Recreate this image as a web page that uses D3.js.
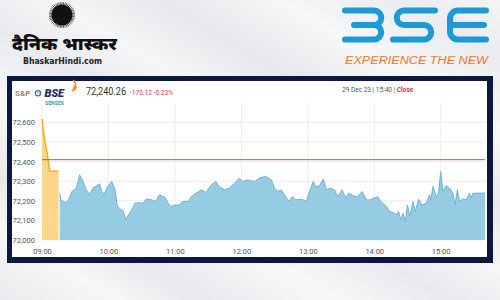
<!DOCTYPE html>
<html>
<head>
<meta charset="utf-8">
<script src="https://cdn.jsdelivr.net/npm/d3@7"></script>
<style>
  body { margin: 0; padding: 0; }
  svg { display: block; }
</style>
</head>
<body>
<div id="chart"></div>
<script>
"use strict";
// pre-open session (orange)
const preOpenTimes = ["09:00", "09:02", "09:05", "09:06", "09:07", "09:15"];
const preOpenValues = [72619, 72525, 72431, 72388, 72352, 72352];

// normal session (blue)
const sessionTimes = [
  "09:16", "09:17", "09:21", "09:24", "09:27", "09:31", "09:34", "09:37", "09:40", "09:43",
  "09:46", "09:52", "09:54", "09:56", "09:59", "10:03", "10:06", "10:08", "10:11", "10:13",
  "10:16", "10:18", "10:21", "10:24", "10:28", "10:31", "10:34", "10:39", "10:43", "10:46",
  "10:51", "10:54", "10:56", "11:00", "11:04", "11:07", "11:12", "11:15", "11:19", "11:24",
  "11:28", "11:33", "11:37", "11:40", "11:45", "11:49", "11:54", "11:58", "12:01", "12:06",
  "12:12", "12:16", "12:22", "12:27", "12:30", "12:33", "12:36", "12:39", "12:43", "12:46",
  "12:49", "12:54", "12:59", "13:01", "13:05", "13:07", "13:10", "13:14", "13:17", "13:20",
  "13:24", "13:27", "13:31", "13:34", "13:37", "13:41", "13:45", "13:49", "13:53", "13:56",
  "14:00", "14:03", "14:06", "14:11", "14:14", "14:17", "14:20", "14:22", "14:24", "14:26",
  "14:28", "14:30", "14:32", "14:35", "14:37", "14:40", "14:43", "14:47", "14:50", "14:51",
  "14:53", "14:56", "14:58", "15:00", "15:02", "15:05", "15:08", "15:11", "15:13", "15:15",
  "15:17", "15:20", "15:23", "15:26", "15:27", "15:29", "15:40"
];
const sessionValues = [
  72239, 72205, 72191, 72205, 72248, 72265, 72333, 72299, 72256, 72231,
  72265, 72287, 72248, 72231, 72273, 72299, 72256, 72171, 72157, 72150,
  72103, 72128, 72154, 72188, 72191, 72188, 72209, 72205, 72197, 72231,
  72219, 72188, 72171, 72179, 72179, 72197, 72197, 72222, 72239, 72256,
  72243, 72282, 72299, 72273, 72256, 72265, 72290, 72316, 72299, 72307,
  72299, 72316, 72325, 72308, 72265, 72248, 72256, 72231, 72197, 72222,
  72205, 72209, 72197, 72239, 72299, 72273, 72273, 72311, 72256, 72265,
  72256, 72222, 72256, 72214, 72239, 72226, 72222, 72248, 72205, 72205,
  72214, 72222, 72197, 72171, 72145, 72140, 72128, 72145, 72103, 72137,
  72094, 72179, 72120, 72197, 72145, 72209, 72179, 72188, 72231, 72205,
  72273, 72222, 72239, 72350, 72248, 72277, 72265, 72239, 72179, 72256,
  72197, 72209, 72205, 72239, 72214, 72239, 72240
];

const prevClose = 72410.38;
const yTicks = [72000, 72100, 72200, 72300, 72400, 72500, 72600];
const xTickLabels = ["09:00", "10:00", "11:00", "12:00", "13:00", "14:00", "15:00"];
const lastValue = "72,240.26";
const change = "-170.12 -0.23%";

const width = 500, height = 300;
const plot = {left: 42, right: 485, top: 103, bottom: 240};
const font = "Roboto, 'Liberation Sans', sans-serif";

const parseTime = d3.timeParse("%H:%M");

const svg = d3.select("#chart").append("svg")
    .attr("width", width)
    .attr("height", height)
    .attr("viewBox", [0, 0, width, height]);

// streaky background
const defs = svg.append("defs");
const bg = defs.append("linearGradient")
    .attr("id", "bg")
    .attr("x1", "0%").attr("y1", "100%")
    .attr("x2", "100%").attr("y2", "0%");
[["0%", "#e9ebee"], ["12%", "#f6f7f8"], ["20%", "#e7e9ed"], ["33%", "#f7f8f9"], ["45%", "#e8eaee"],
 ["55%", "#f5f6f7"], ["66%", "#e6e8ec"], ["78%", "#f6f7f8"], ["90%", "#eaecef"], ["100%", "#f3f4f6"]]
  .forEach(([o, c]) => bg.append("stop").attr("offset", o).attr("stop-color", c));

svg.append("rect").attr("width", width).attr("height", height).attr("fill", "url(#bg)");

// ---- Dainik Bhaskar logo ----
const sun = svg.append("g").attr("transform", "translate(62,15)");
sun.append("circle").attr("r", 10.5).attr("fill", "#111");
d3.range(48).forEach(i => {
  const a = i / 48 * 2 * Math.PI;
  sun.append("line")
    .attr("x1", Math.cos(a) * 10).attr("y1", Math.sin(a) * 10)
    .attr("x2", Math.cos(a) * 13).attr("y2", Math.sin(a) * 13)
    .attr("stroke", "#222").attr("stroke-width", 0.7);
});
svg.append("text")
    .attr("x", 12).attr("y", 50)
    .attr("textLength", 105)
    .attr("lengthAdjust", "spacingAndGlyphs")
    .style("font-family", "'Noto Sans Devanagari', 'Noto Sans', sans-serif")
    .style("font-size", "18px")
    .style("font-weight", "900")
    .attr("fill", "#111")
    .text("दैनिक भास्कर");
svg.append("text")
    .attr("x", 23).attr("y", 64)
    .attr("textLength", 79)
    .attr("lengthAdjust", "spacingAndGlyphs")
    .style("font-family", "'DejaVu Sans Condensed', 'DejaVu Sans', sans-serif")
    .style("font-size", "8.5px")
    .style("font-weight", "bold")
    .attr("fill", "#222")
    .text("BhaskarHindi.com");

// ---- BSE logo ----
const bseBlue = "#1c9ad6";
const logo = svg.append("g")
    .attr("fill", "none")
    .attr("stroke", bseBlue)
    .attr("stroke-width", 6)
    .attr("stroke-linecap", "round");
logo.append("path").attr("d", "M345,10.5 H374 A7.2,7.2 0 0 1 374,25 H354 M374,25 A7.2,7.2 0 0 1 374,39.5 H345");
logo.append("path").attr("d", "M435,10.5 H404 A7.2,7.2 0 0 0 404,25 H424 A7.2,7.2 0 0 1 424,39.5 H393");
logo.append("path").attr("d", "M486,10.5 H458 A8,8 0 0 0 450,18.5 V31.5 A8,8 0 0 0 458,39.5 H486 M453,25 H484");
svg.append("text")
    .attr("x", 345).attr("y", 63.5)
    .attr("textLength", 143)
    .attr("lengthAdjust", "spacingAndGlyphs")
    .style("font-family", "'Liberation Sans', sans-serif")
    .style("font-size", "10px")
    .style("font-style", "italic")
    .attr("fill", "#e8782a")
    .text("EXPERIENCE THE NEW");

// ---- frame and panel ----
svg.append("rect")
    .attr("x", 7).attr("y", 76).attr("width", 486).attr("height", 187)
    .attr("fill", "#0c1742");
svg.append("rect")
    .attr("x", 12).attr("y", 81).attr("width", 475).attr("height", 176)
    .attr("fill", "#fff");

// ---- header of the chart ----
svg.append("text")
    .attr("x", 15).attr("y", 96)
    .style("font-family", font).style("font-size", "8px").style("font-weight", "bold")
    .attr("fill", "#8c8c8c")
    .text("S&P");
svg.append("circle").attr("cx", 38).attr("cy", 93.3).attr("r", 2.6)
    .attr("fill", "none").attr("stroke", "#2a78b8").attr("stroke-width", 1.3);
svg.append("path").attr("d", "M36.5,91.5 L40,94.5").attr("stroke", "#f08a24").attr("stroke-width", 1);
svg.append("text")
    .attr("x", 44.5).attr("y", 97)
    .style("font-family", font).style("font-size", "11px").style("font-weight", "900")
    .style("font-style", "italic")
    .attr("fill", "#1d2a6c")
    .text("BSE");
svg.append("path")
    .attr("d", "M73,80 Q78,84 73,89 M75,86 Q78,88 72,91")
    .attr("fill", "none").attr("stroke", "#f0892a").attr("stroke-width", 1.6);
svg.append("text")
    .attr("x", 45).attr("y", 104.5)
    .attr("textLength", 19)
    .style("font-family", font).style("font-size", "5px").style("font-weight", "bold")
    .attr("fill", "#3a98b8")
    .text("SENSEX");
svg.append("text")
    .attr("x", 86).attr("y", 95)
    .attr("textLength", 40)
    .attr("lengthAdjust", "spacingAndGlyphs")
    .style("font-family", font).style("font-size", "11px")
    .attr("fill", "#333")
    .text(lastValue);
svg.append("text")
    .attr("x", 130).attr("y", 95)
    .attr("textLength", 43)
    .attr("lengthAdjust", "spacingAndGlyphs")
    .style("font-family", font).style("font-size", "7.5px")
    .attr("fill", "#d23a4a")
    .text(change);
const stamp = svg.append("text")
    .attr("x", 342).attr("y", 91.5)
    .style("font-family", font).style("font-size", "6.5px")
    .attr("fill", "#555");
stamp.append("tspan").text("29 Dec 23 | 15:40 | ");
stamp.append("tspan").attr("fill", "#d23a4a").style("font-weight", "bold").text("Close");

// ---- scales ----
const x = d3.scaleTime()
    .domain([parseTime("09:00"), parseTime("15:40")])
    .range([plot.left, plot.right]);
const y = d3.scaleLinear()
    .domain([72000, 72700])
    .range([plot.bottom, plot.top]);

// grid
svg.append("g")
    .attr("stroke", "#e8e8e8").attr("stroke-width", 0.8)
  .selectAll("line")
  .data(yTicks)
  .join("line")
    .attr("x1", plot.left).attr("x2", plot.right)
    .attr("y1", d => y(d)).attr("y2", d => y(d));
svg.append("g")
    .attr("stroke", "#e8e8e8").attr("stroke-width", 0.8)
  .selectAll("line")
  .data(xTickLabels)
  .join("line")
    .attr("x1", d => x(parseTime(d))).attr("x2", d => x(parseTime(d)))
    .attr("y1", plot.top).attr("y2", plot.bottom);

// pre-open and session series
const preOpen = preOpenTimes.map((t, i) => ({t: parseTime(t), v: preOpenValues[i]}));
const session = sessionTimes.map((t, i) => ({t: parseTime(t), v: sessionValues[i]}));

const area = d3.area().x(d => x(d.t)).y0(y(72000)).y1(d => y(d.v));
const line = d3.line().x(d => x(d.t)).y(d => y(d.v));

svg.append("path").datum(preOpen).attr("d", area).attr("fill", "#fdd68c");
svg.append("path").datum(preOpen).attr("d", line)
    .attr("fill", "none").attr("stroke", "#f3a61f").attr("stroke-width", 1.4);

svg.append("path").datum(session).attr("d", area).attr("fill", "#95cbe3");
svg.append("path").datum(session).attr("d", line)
    .attr("fill", "none").attr("stroke", "#6fb4d6").attr("stroke-width", 1);

// previous close
svg.append("line")
    .attr("x1", plot.left).attr("x2", plot.right)
    .attr("y1", y(prevClose)).attr("y2", y(prevClose))
    .attr("stroke", "#d9494b").attr("stroke-width", 1);

// axes
svg.append("g")
    .attr("transform", `translate(${plot.left - 4},0)`)
    .call(d3.axisLeft(y).tickValues(yTicks).tickFormat(d3.format(",")).tickSize(0))
    .call(g => g.select(".domain").remove())
    .call(g => g.selectAll("text")
        .style("font-family", font).style("font-size", "7.5px").attr("fill", "#555"));

svg.append("g")
    .attr("transform", `translate(0,${plot.bottom + 6})`)
    .call(d3.axisBottom(x).tickValues(xTickLabels.map(parseTime)).tickFormat(d3.timeFormat("%H:%M")).tickSize(0))
    .call(g => g.select(".domain").remove())
    .call(g => g.selectAll("text")
        .style("font-family", font).style("font-size", "7.5px").attr("fill", "#555"));
</script>
</body>
</html>
